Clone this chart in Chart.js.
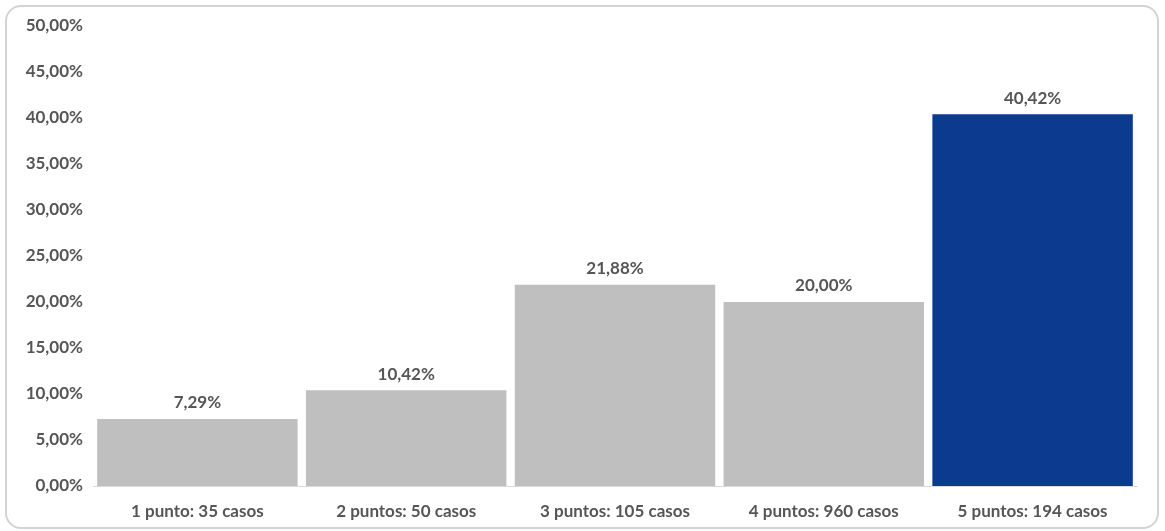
<!DOCTYPE html>
<html>
<head>
<meta charset="utf-8">
<script src="https://cdn.jsdelivr.net/npm/chart.js@4/dist/chart.umd.min.js"></script>
<style>
  html, body { margin: 0; padding: 0; background: #ffffff; }
  #wrap { position: relative; width: 1165px; height: 531px; overflow: hidden; }
  #frame {
    position: absolute; left: 5px; top: 5px; width: 1150px; height: 520px;
    border: 2px solid #d3d3d3; border-radius: 16px; box-sizing: content-box;
  }
  canvas { position: absolute; left: 0; top: 0; }
</style>
</head>
<body>
<div id="wrap">
  <div id="frame"></div>
  <canvas id="c" width="1165" height="531"></canvas>
</div>
<script>
// Categories and percentages of cases per score
const categories = ['1 punto: 35 casos', '2 puntos: 50 casos', '3 puntos: 105 casos', '4 puntos: 960 casos', '5 puntos: 194 casos'];
const percentages = [7.29, 10.42, 21.88, 20.00, 40.42];
const barColors = ['#bfbfbf', '#bfbfbf', '#bfbfbf', '#bfbfbf', '#0c3a8f'];
const yTicks = [0, 5, 10, 15, 20, 25, 30, 35, 40, 45, 50];

const textColor = '#565656';
const fontFamily = 'Lato, "Open Sans", sans-serif';
const fontSize = 17;

function fmtPct(v) {
  return v.toFixed(2).replace('.', ',') + '%';
}

// Writes each bar's value above it
const valueLabels = {
  id: 'valueLabels',
  afterDatasetsDraw(chart) {
    const ctx = chart.ctx;
    const meta = chart.getDatasetMeta(0);
    ctx.save();
    ctx.font = 'bold ' + fontSize + 'px ' + fontFamily;
    ctx.fillStyle = textColor;
    ctx.textAlign = 'center';
    ctx.textBaseline = 'middle';
    meta.data.forEach((bar, i) => {
      ctx.fillText(fmtPct(percentages[i]), bar.x, bar.y - 16);
    });
    ctx.restore();
  }
};

new Chart(document.getElementById('c'), {
  type: 'bar',
  data: {
    labels: categories,
    datasets: [{
      data: percentages,
      backgroundColor: barColors,
      borderWidth: 0,
      barPercentage: 0.96,
      categoryPercentage: 1.0
    }]
  },
  options: {
    responsive: false,
    animation: false,
    layout: { padding: { top: 26, right: 28, bottom: 0, left: 0 } },
    plugins: {
      legend: { display: false },
      tooltip: { enabled: false }
    },
    scales: {
      x: {
        grid: { display: false, drawTicks: false },
        border: { display: true, color: '#d9d9d9', width: 1 },
        ticks: {
          color: textColor,
          font: { family: fontFamily, size: fontSize, weight: 'bold' },
          padding: 15,
          maxRotation: 0
        },
        afterFit(scale) { scale.height = 45; }
      },
      y: {
        min: 0,
        max: 50,
        afterBuildTicks(scale) { scale.ticks = yTicks.map(v => ({ value: v })); },
        grid: { display: false, drawTicks: false },
        border: { display: false },
        ticks: {
          color: textColor,
          font: { family: fontFamily, size: fontSize, weight: 'bold' },
          padding: 10,
          callback: v => fmtPct(v)
        },
        afterFit(scale) { scale.width = 93; }
      }
    }
  },
  plugins: [valueLabels]
});
</script>
</body>
</html>
